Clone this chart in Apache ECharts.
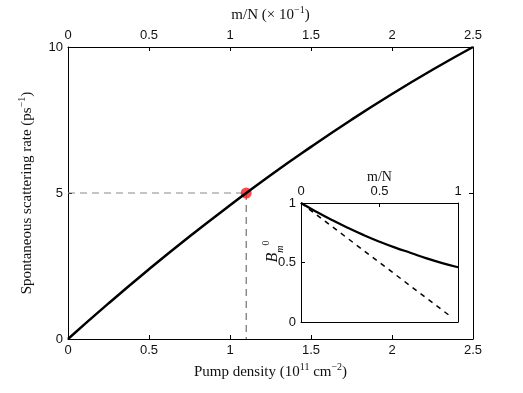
<!DOCTYPE html>
<html>
<head>
<meta charset="utf-8">
<script src="https://cdn.jsdelivr.net/npm/echarts@6/dist/echarts.min.js"></script>
<style>
html,body{margin:0;padding:0;background:#fff;}
#chart{width:523px;height:393px;}
</style>
</head>
<body>
<div id="chart"></div>
<script>
// Main chart data
const pumpDensity = [0, 0.25, 0.5, 0.75, 1.0, 1.25, 1.5, 1.75, 2.0, 2.25, 2.5];
const scatteringRate = [0, 1.22, 2.39, 3.51, 4.58, 5.61, 6.58, 7.51, 8.39, 9.22, 10.0];
const markedPoint = [1.1, 5];

// Inset data
const insetX = [0, 0.1, 0.2, 0.3, 0.4, 0.5, 0.6, 0.7, 0.8, 0.9, 1.0];
const insetSolid = [1, 0.925, 0.855, 0.79, 0.73, 0.675, 0.625, 0.58, 0.535, 0.495, 0.46];
const insetDashX = [0, 0.955];
const insetDashY = [1, 0.045];

const chart = echarts.init(document.getElementById('chart'), null, {renderer: 'canvas'});

const sansFont = '"Liberation Sans", Arial, sans-serif';
const serifFont = '"Liberation Serif", "Times New Roman", serif';
const tickText = {color: '#111', fontFamily: sansFont, fontSize: 13};
const richBase = {
  t: {fontFamily: serifFont, fontSize: 15, color: '#111', lineHeight: 16, verticalAlign: 'bottom'},
  sup: {fontFamily: serifFont, fontSize: 10, color: '#111', lineHeight: 10, verticalAlign: 'bottom', padding: [0, 0, 8, 0]}
};
const nameStyleBase = {color: '#111', fontFamily: serifFont, fontSize: 15, rich: richBase};

function axisCommon(min, max, interval, showLabels) {
  return {
    min: min, max: max, interval: interval,
    axisLine: {show: true, onZero: false, lineStyle: {color: '#000', width: 1}},
    axisTick: {show: true, inside: true, length: 4, lineStyle: {color: '#000', width: 1}},
    axisLabel: Object.assign({show: showLabels, margin: 5, formatter: v => String(v)}, tickText),
    splitLine: {show: false}
  };
}

const lineData = pumpDensity.map((x, i) => [x, scatteringRate[i]]);
const insetSolidData = insetX.map((x, i) => [x, insetSolid[i]]);
const insetDashData = insetDashX.map((x, i) => [x, insetDashY[i]]);

const option = {
  backgroundColor: '#fff',
  animation: false,
  grid: [
    {left: 68, top: 47, width: 405, height: 292, containLabel: false},
    {left: 301, top: 203, width: 157, height: 119, containLabel: false, show: true, backgroundColor: '#fff', borderWidth: 0}
  ],
  xAxis: [
    Object.assign(axisCommon(0, 2.5, 0.5, true), {
      type: 'value', gridIndex: 0, position: 'bottom',
      name: '{t|Pump density (10}{sup|11}{t| cm}{sup|−2}{t|)}', nameLocation: 'middle', nameGap: 25,
      nameTextStyle: nameStyleBase
    }),
    Object.assign(axisCommon(0, 2.5, 0.5, true), {
      type: 'value', gridIndex: 0, position: 'top',
      name: '{t|m/N (× 10}{sup|−1}{t|)}', nameLocation: 'middle', nameGap: 24,
      nameTextStyle: nameStyleBase
    }),
    Object.assign(axisCommon(0, 1, 0.5, true), {
      type: 'value', gridIndex: 1, position: 'top',
      name: 'm/N', nameLocation: 'middle', nameGap: 19,
      nameTextStyle: {color: '#111', fontFamily: serifFont, fontSize: 14}
    }),
    Object.assign(axisCommon(0, 1, 0.5, false), {
      type: 'value', gridIndex: 1, position: 'bottom', axisTick: {show: false}
    })
  ],
  yAxis: [
    Object.assign(axisCommon(0, 10, 5, true), {
      type: 'value', gridIndex: 0, position: 'left',
      name: '{t|Spontaneous scattering rate (ps}{sup|−1}{t|)}', nameLocation: 'middle', nameGap: 33,
      nameTextStyle: nameStyleBase
    }),
    Object.assign(axisCommon(0, 10, 5, false), {
      type: 'value', gridIndex: 0, position: 'right'
    }),
    Object.assign(axisCommon(0, 1, 0.5, true), {
      type: 'value', gridIndex: 1, position: 'left',
      name: '{b|B}{sub|m}{sup|0}', nameLocation: 'middle', nameGap: 20, nameMoveOverlap: false,
      nameTextStyle: {
        color: '#111', fontFamily: serifFont, fontSize: 15, padding: [0, 0, 0, 22],
        rich: {
          b: {fontFamily: serifFont, fontStyle: 'italic', fontSize: 16, color: '#111', lineHeight: 16, verticalAlign: 'middle'},
          sub: {fontFamily: serifFont, fontStyle: 'italic', fontSize: 10, color: '#111', lineHeight: 10, verticalAlign: 'top', padding: [10, 0, 0, 0]},
          sup: {fontFamily: serifFont, fontSize: 10, color: '#111', lineHeight: 10, verticalAlign: 'bottom', padding: [0, 0, 10, 0]}
        }
      }
    }),
    Object.assign(axisCommon(0, 1, 0.5, false), {
      type: 'value', gridIndex: 1, position: 'right', axisTick: {show: false}
    })
  ],
  series: [
    {
      type: 'line', xAxisIndex: 0, yAxisIndex: 0, silent: true,
      data: [[0, markedPoint[1]], markedPoint],
      symbol: 'none',
      lineStyle: {color: '#888', width: 1, type: [7, 5]}, z: 1
    },
    {
      type: 'line', xAxisIndex: 0, yAxisIndex: 0, silent: true,
      data: [markedPoint, [markedPoint[0], 0]],
      symbol: 'none',
      lineStyle: {color: '#555', width: 1, type: [7, 5]}, z: 1
    },
    {
      type: 'scatter', xAxisIndex: 0, yAxisIndex: 0, silent: true,
      data: [markedPoint], symbol: 'circle', symbolSize: 11,
      itemStyle: {color: '#ff1a1a'}, z: 2
    },
    {
      type: 'line', xAxisIndex: 0, yAxisIndex: 0, silent: true,
      data: lineData, smooth: true, symbol: 'none',
      lineStyle: {color: '#000', width: 2.5}, z: 3
    },
    {
      type: 'line', xAxisIndex: 2, yAxisIndex: 2, silent: true,
      data: insetSolidData, smooth: true, symbol: 'none',
      lineStyle: {color: '#000', width: 2.2}, z: 3
    },
    {
      type: 'line', xAxisIndex: 2, yAxisIndex: 2, silent: true,
      data: insetDashData, symbol: 'none',
      lineStyle: {color: '#000', width: 1.5, type: [5, 5]}, z: 3
    }
  ]
};
chart.setOption(option);
</script>
</body>
</html>
